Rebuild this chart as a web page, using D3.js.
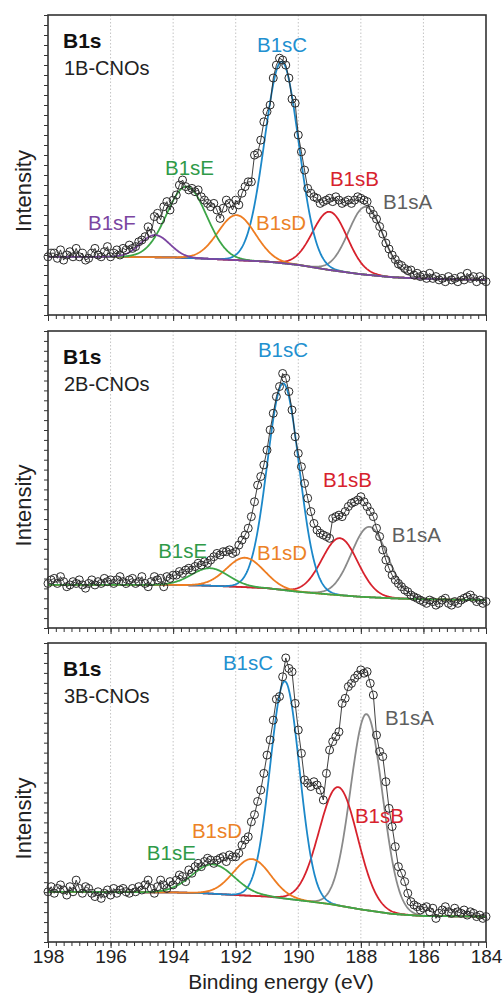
<!DOCTYPE html>
<html>
<head>
<meta charset="utf-8">
<script src="https://cdn.jsdelivr.net/npm/d3@7"></script>
<style>
  body { margin: 0; background: #fff; }
  .tick line { stroke: #333; }
  .domain { display: none; }
</style>
</head>
<body>
<div id="chart"></div>
<script>
// ---- data ----
const energies = d3.range(0, 141).map(i => +(198 - i * 0.1).toFixed(1)); // 198.0 ... 184.0 eV, 0.1 eV steps
const xTickLabels = [198, 196, 194, 192, 190, 188, 186, 184];
const samples = ["1B-CNOs", "2B-CNOs", "3B-CNOs"];
const peakNames = ["B1sA", "B1sB", "B1sC", "B1sD", "B1sE", "B1sF"];

const intensity1B = [
  19.4, 20.6, 20.6, 18.9, 21.7, 18.3, 20.0, 21.1, 19.4, 22.2,
  19.4, 20.6, 18.3, 18.9, 20.6, 22.2, 20.0, 19.4, 21.1, 22.8,
  19.4, 20.6, 21.7, 20.0, 22.2, 21.7, 23.3, 22.2, 22.8, 24.4,
  25.0, 26.1, 29.4, 27.2, 32.8, 33.9, 31.7, 36.1, 37.8, 35.0,
  38.3, 40.0, 43.3, 45.0, 42.8, 41.7, 42.2, 41.1, 41.7, 39.4,
  38.3, 37.2, 36.1, 37.2, 35.0, 32.2, 35.6, 38.3, 37.2, 35.0,
  38.3, 36.7, 40.6, 42.8, 44.4, 44.4, 53.3, 53.9, 58.3, 64.4,
  67.8, 70.0, 79.0, 83.3, 85.6, 85.0, 83.3, 79.0, 72.0, 70.6,
  60.0, 54.4, 48.3, 42.2, 40.6, 39.4, 38.9, 37.2, 37.8, 38.3,
  38.9, 37.8, 39.4, 38.3, 37.2, 37.8, 38.3, 37.2, 38.3, 39.4,
  38.9, 38.3, 37.8, 35.0, 33.5, 32.0, 29.5, 27.0, 24.0, 22.0,
  20.0, 18.5, 17.0, 16.5, 15.5, 14.8, 15.0, 13.3, 13.9, 12.8,
  13.3, 12.2, 13.9, 12.2, 12.8, 11.7, 12.2, 11.1, 12.8, 11.7,
  12.2, 11.1, 12.8, 11.7, 13.9, 12.2, 12.8, 11.1, 12.8, 11.7,
  11.1
];
const intensity2B = [
  15.0, 16.2, 16.7, 15.0, 17.3, 15.6, 13.9, 14.5, 15.6, 15.0,
  16.2, 14.5, 13.4, 15.0, 16.2, 14.5, 15.6, 15.0, 16.7, 15.6,
  16.2, 15.0, 16.2, 17.3, 15.6, 15.0, 16.2, 16.7, 15.0, 15.6,
  17.3, 15.0, 13.9, 15.6, 17.3, 16.2, 16.7, 13.9, 17.3, 16.7,
  17.8, 17.8, 19.0, 18.4, 19.5, 20.1, 19.5, 20.7, 21.8, 21.2,
  22.3, 21.8, 22.9, 24.0, 25.1, 24.6, 25.7, 25.7, 26.3, 25.1,
  25.7, 27.9, 29.6, 31.3, 33.6, 37.5, 42.5, 48.1, 51.0, 54.9,
  59.9, 66.7, 72.3, 77.9, 81.3, 85.7, 84.1, 79.6, 73.4, 64.4,
  58.8, 54.3, 48.7, 43.7, 39.2, 35.2, 33.0, 31.9, 31.3, 30.8,
  30.2, 36.9, 37.5, 38.0, 37.5, 39.2, 40.9, 42.0, 42.5, 43.1,
  44.2, 42.5, 40.9, 39.2, 37.5, 33.6, 30.8, 26.3, 22.9, 20.1,
  17.8, 16.2, 15.0, 13.9, 12.8, 12.2, 11.1, 10.5, 10.0, 9.4,
  8.9, 8.3, 9.4, 8.9, 7.7, 8.3, 9.4, 10.0, 8.3, 7.7,
  8.9, 8.3, 9.4, 10.0, 10.5, 11.1, 10.0, 8.9, 9.4, 8.3,
  8.9
];
const intensity3B = [
  16.8, 18.5, 16.3, 17.9, 19.1, 17.4, 15.7, 18.5, 16.8, 20.7,
  17.9, 16.3, 18.5, 17.9, 16.3, 15.2, 16.8, 14.6, 16.3, 17.4,
  15.7, 17.9, 16.3, 17.4, 17.9, 16.8, 16.3, 17.9, 16.8, 18.5,
  17.4, 19.1, 20.7, 17.9, 16.3, 18.5, 20.7, 19.1, 17.9, 20.2,
  19.1, 20.7, 22.4, 21.9, 20.2, 24.1, 23.0, 25.2, 26.3, 25.2,
  26.9, 28.0, 27.4, 26.3, 27.4, 28.0, 28.5, 26.9, 29.1, 28.5,
  28.5, 29.7, 32.4, 34.1, 35.2, 40.2, 42.6, 47.0, 50.8, 56.4,
  62.5, 67.6, 74.2, 81.2, 82.1, 88.7, 95.0, 91.5, 90.4, 79.8,
  70.9, 63.1, 54.2, 53.1, 52.0, 53.6, 52.5, 50.8, 47.5, 56.4,
  64.2, 67.0, 68.7, 70.3, 79.8, 81.5, 85.4, 86.5, 88.2, 89.3,
  91.0, 89.9, 90.4, 86.5, 82.6, 69.2, 63.7, 62.0, 53.6, 44.7,
  38.6, 31.9, 25.2, 23.0, 20.2, 16.3, 13.5, 12.4, 11.8, 10.7,
  11.3, 11.8, 10.1, 11.3, 7.9, 9.6, 10.7, 11.8, 10.1, 9.6,
  11.3, 10.1, 9.6, 10.7, 9.0, 10.1, 9.6, 8.5, 9.0, 7.9,
  8.5
];

// background (Shirley-type) read at these energies
const bgEnergy = [198, 196, 194, 193, 192, 191, 190, 189, 188, 187, 186, 184];
const background1B = [19.4, 19.4, 19.2, 18.8, 18.3, 17.8, 16.7, 15.0, 13.6, 12.6, 12.1, 11.7];
const background2B = [14.5, 14.5, 14.5, 14.3, 13.9, 13.4, 12.2, 11.3, 10.5, 10.0, 9.7, 9.4];
const background3B = [16.8, 16.7, 16.6, 16.3, 15.7, 15.2, 14.0, 12.7, 10.9, 9.4, 8.7, 8.5];

// fitted components, order A, B, C, D, E, F
const center1B = [187.84, 188.99, 190.53, 191.97, 193.57, 194.58];
const height1B = [22.6, 19.4, 67.2, 15.0, 23.8, 7.4];
const fwhm1B   = [1.3, 1.3, 1.28, 1.4, 1.5, 1.1];
const center2B = [187.73, 188.67, 190.48, 191.70, 192.82];
const height2B = [23.7, 19.2, 69.6, 9.9, 5.9];
const fwhm2B   = [1.35, 1.35, 1.2, 1.4, 1.4];
const center3B = [187.82, 188.72, 190.43, 191.49, 192.72];
const height3B = [65.6, 39.6, 72.7, 12.3, 9.8];
const fwhm3B   = [1.2, 1.45, 1.1, 1.4, 1.6];

// ---- layout ----
const W = 504, H = 996;
const plotLeft = 48, plotRight = 486;
const panelBox = [[15, 315], [331, 628], [643, 942]];
const peakColor = { B1sA: "#8a8a8a", B1sB: "#d7222d", B1sC: "#1c88c9", B1sD: "#ee7d22", B1sE: "#3da647", B1sF: "#7b45a1" };
const labelColor = { B1sA: "#5f5f5f", B1sB: "#d7222d", B1sC: "#2290d0", B1sD: "#ec8226", B1sE: "#2f9a48", B1sF: "#7b45a1" };
// label anchors (energy, intensity) for each panel
const labelSpots = [
  { B1sC: [191.32, 87.7], B1sE: [194.26, 46.7], B1sB: [188.99, 43.0], B1sA: [187.29, 35.3], B1sF: [196.72, 28.3], B1sD: [191.35, 28.3] },
  { B1sC: [191.29, 91.2], B1sB: [189.21, 47.5], B1sA: [187.01, 29.0], B1sE: [194.48, 23.6], B1sD: [191.32, 22.9] },
  { B1sC: [192.41, 91.0], B1sA: [187.23, 72.6], B1sB: [188.19, 39.8], B1sD: [193.40, 34.8], B1sE: [194.84, 27.4] }
];

const panels = [
  { sample: samples[0], values: intensity1B, bg: background1B, c: center1B, h: height1B, w: fwhm1B },
  { sample: samples[1], values: intensity2B, bg: background2B, c: center2B, h: height2B, w: fwhm2B },
  { sample: samples[2], values: intensity3B, bg: background3B, c: center3B, h: height3B, w: fwhm3B }
];

const svg = d3.select("#chart").append("svg")
  .attr("width", W)
  .attr("height", H)
  .style("font-family", "'Liberation Sans', Arial, sans-serif");

const x = d3.scaleLinear().domain([198, 184]).range([plotLeft, plotRight]);
const fine = d3.range(198, 183.99, -0.02);
const minorX = d3.range(0, 57).map(i => 198 - i * 0.25);

function gauss(e, c, h, w) {
  return h * Math.exp(-4 * Math.LN2 * (e - c) * (e - c) / (w * w));
}

panels.forEach((p, k) => {
  const [top, bottom] = panelBox[k];
  const y = d3.scaleLinear().domain([0, 100]).range([bottom, top]);
  const bg = d3.scaleLinear().domain(bgEnergy).range(p.bg);
  const g = svg.append("g");

  // dotted vertical grid
  g.selectAll("line.grid")
    .data(xTickLabels.slice(1, -1))
    .join("line")
    .attr("class", "grid")
    .attr("x1", d => x(d)).attr("x2", d => x(d))
    .attr("y1", top).attr("y2", bottom)
    .attr("stroke", "#c4c4c4")
    .attr("stroke-width", 1)
    .attr("stroke-dasharray", "1.5,2");

  // fitted components sitting on the background
  p.c.forEach((c, i) => {
    const name = peakNames[i];
    const line = d3.line()
      .x(e => x(e))
      .y(e => y(bg(e) + gauss(e, c, p.h[i], p.w[i])));
    g.append("path")
      .attr("d", line(fine))
      .attr("fill", "none")
      .attr("stroke", peakColor[name])
      .attr("stroke-width", 1.8);
  });

  // measured points
  const pts = energies.map((e, i) => [e, p.values[i]]);
  g.append("path")
    .attr("d", d3.line().x(d => x(d[0])).y(d => y(d[1]))(pts))
    .attr("fill", "none")
    .attr("stroke", "#2a2a2a")
    .attr("stroke-width", 0.9);
  g.selectAll("circle")
    .data(pts)
    .join("circle")
    .attr("cx", d => x(d[0]))
    .attr("cy", d => y(d[1]))
    .attr("r", 4)
    .attr("fill", "none")
    .attr("stroke", "#2a2a2a")
    .attr("stroke-width", 1);

  // axes
  g.append("g")
    .attr("transform", `translate(0,${bottom})`)
    .call(d3.axisBottom(x).tickValues(minorX).tickSize(4).tickFormat(""));
  const major = g.append("g")
    .attr("transform", `translate(0,${bottom})`)
    .call(d3.axisBottom(x).tickValues(xTickLabels).tickSize(6).tickPadding(2)
      .tickFormat(k === 2 ? d3.format("d") : ""));
  major.selectAll("text").attr("font-size", 19).attr("fill", "#222")
    .style("font-family", "'Liberation Sans', Arial, sans-serif");
  g.append("g")
    .attr("transform", `translate(${plotLeft},0)`)
    .call(d3.axisLeft(y).tickValues(d3.range(0, 31).map(i => i * 100 / 30)).tickSize(4).tickFormat(""));

  // frame
  g.append("rect")
    .attr("x", plotLeft).attr("y", top)
    .attr("width", plotRight - plotLeft).attr("height", bottom - top)
    .attr("fill", "none")
    .attr("stroke", "#333")
    .attr("stroke-width", 1.6);

  // titles
  g.append("text")
    .attr("x", 63).attr("y", top + 33)
    .attr("font-size", 21).attr("font-weight", "bold").attr("fill", "#111")
    .text("B1s");
  g.append("text")
    .attr("x", 64).attr("y", top + 60)
    .attr("font-size", 20).attr("fill", "#222")
    .text(p.sample);

  // peak labels
  Object.entries(labelSpots[k]).forEach(([name, pos]) => {
    g.append("text")
      .attr("x", x(pos[0])).attr("y", y(pos[1]))
      .attr("font-size", 20.5)
      .attr("fill", labelColor[name])
      .text(name);
  });

  // y label
  g.append("text")
    .attr("transform", `translate(31,${(top + bottom) / 2 + 26}) rotate(-90)`)
    .attr("text-anchor", "middle")
    .attr("font-size", 22)
    .attr("fill", "#222")
    .text("Intensity");
});

svg.append("text")
  .attr("x", 281).attr("y", 989)
  .attr("text-anchor", "middle")
  .attr("font-size", 21)
  .attr("fill", "#222")
  .text("Binding energy (eV)");
</script>
</body>
</html>
